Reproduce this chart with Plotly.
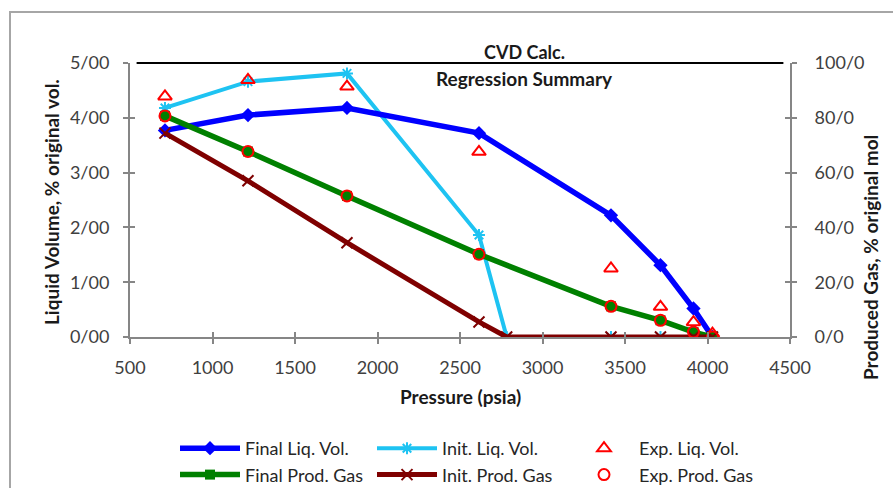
import plotly.graph_objects as go

# ---- data ----
pressure = [712, 1215, 1815, 2615, 3415, 3715, 3915, 4030]
pressure_init = [712, 1215, 1815, 2615, 2783, 3415, 3715, 3915, 4030]

final_liq_vol = [3.77, 4.05, 4.18, 3.72, 2.22, 1.31, 0.52, 0.0]
init_liq_vol = [4.18, 4.66, 4.81, 1.86, 0.0, 0.0, 0.0, 0.0, 0.0]
exp_liq_vol = [4.39, 4.69, 4.57, 3.38, 1.25, 0.55, 0.27, 0.06]

final_prod_gas = [80.7, 67.7, 51.5, 30.2, 11.2, 6.1, 1.8, 0.0]
init_prod_gas = [74.4, 57.0, 34.4, 5.5, 0.0, 0.0, 0.0, 0.0, 0.0]
exp_prod_gas = [80.7, 67.7, 51.5, 30.2, 11.2, 6.1, 1.8, 0.0]

x_ticks = [500, 1000, 1500, 2000, 2500, 3000, 3500, 4000, 4500]
y1_ticks = [0, 1, 2, 3, 4, 5]
y1_labels = ["0/00", "1/00", "2/00", "3/00", "4/00", "5/00"]
y2_ticks = [0, 20, 40, 60, 80, 100]
y2_labels = ["0/0", "20/0", "40/0", "60/0", "80/0", "100/0"]

FONT = "Lato, 'Open Sans', sans-serif"
W, H = 893, 488
L, R, T, B = 130, 790, 63, 337


def px(x):
    return (x - L) / (R - L)


def py(y):
    return (B - y) / (B - T)


fig = go.Figure()

fig.add_trace(go.Scatter(
    x=pressure_init, y=init_liq_vol, name="Init. Liq. Vol.", mode="lines+markers",
    line=dict(color="#1EC3F2", width=4),
    marker=dict(symbol="asterisk-open", size=10, line=dict(color="#1EC3F2", width=2)),
    legend="legend2"))
fig.add_trace(go.Scatter(
    x=pressure, y=final_liq_vol, name="Final Liq. Vol.", mode="lines+markers",
    line=dict(color="#0000FF", width=5.5),
    marker=dict(symbol="diamond", size=11, color="#0000FF"),
    legend="legend"))
fig.add_trace(go.Scatter(
    x=pressure, y=exp_liq_vol, name="Exp. Liq. Vol.", mode="markers",
    marker=dict(symbol="triangle-up-open", size=12, color="#FF0000", line=dict(width=2)),
    legend="legend3"))

fig.add_trace(go.Scatter(
    x=pressure, y=final_prod_gas, name="Final Prod. Gas", mode="lines+markers",
    line=dict(color="#008000", width=5.5),
    marker=dict(symbol="square", size=10, color="#008000"),
    yaxis="y2", legend="legend"))
fig.add_trace(go.Scatter(
    x=pressure_init, y=init_prod_gas, name="Init. Prod. Gas", mode="lines+markers",
    line=dict(color="#7F0000", width=5),
    marker=dict(symbol="x-thin-open", size=11, line=dict(color="#7F0000", width=2)),
    yaxis="y2", legend="legend2"))
fig.add_trace(go.Scatter(
    x=pressure, y=exp_prod_gas, name="Exp. Prod. Gas", mode="markers",
    marker=dict(symbol="circle-open", size=11, color="#FF0000", line=dict(width=2)),
    yaxis="y2", legend="legend3"))

axis_col = "#868686"
tickfont = dict(family=FONT, size=18, color="#404040")
legfont = dict(family=FONT, size=18, color="#262626")

fig.update_layout(
    width=W, height=H,
    margin=dict(l=L, r=W - R, t=T, b=H - B, autoexpand=False),
    paper_bgcolor="white", plot_bgcolor="white",
    font=dict(family=FONT, size=18, color="#262626"),
    xaxis=dict(range=[500, 4500], tickvals=x_ticks, ticktext=[str(v) for v in x_ticks],
               showgrid=False, zeroline=False, showline=True, linecolor=axis_col, linewidth=2,
               ticks="outside", ticklen=5, tickcolor=axis_col, tickwidth=1.5,
               tickfont=tickfont, ticklabelstandoff=8),
    yaxis=dict(range=[0, 5], tickvals=y1_ticks, ticktext=y1_labels,
               showgrid=False, zeroline=False, showline=True, linecolor=axis_col, linewidth=2,
               ticks="outside", ticklen=5, tickcolor=axis_col, tickwidth=1.5,
               tickfont=tickfont, ticklabelstandoff=10),
    yaxis2=dict(range=[0, 100], tickvals=y2_ticks, ticktext=y2_labels, overlaying="y", side="right",
                showgrid=False, zeroline=False, showline=True, linecolor=axis_col, linewidth=2,
                ticks="outside", ticklen=5, tickcolor=axis_col, tickwidth=1.5,
                tickfont=tickfont, ticklabelstandoff=14),
    xaxis2=dict(range=[500, 4500], tickvals=x_ticks, overlaying="x", anchor="y", side="bottom",
                showticklabels=False, showgrid=False, zeroline=False, showline=False,
                ticks="inside", ticklen=5, tickcolor=axis_col, tickwidth=1.5),
    yaxis3=dict(range=[0, 5], tickvals=y1_ticks, overlaying="y", anchor="x", side="left",
                showticklabels=False, showgrid=False, zeroline=False, showline=False,
                ticks="inside", ticklen=5, tickcolor=axis_col, tickwidth=1.5),
    yaxis4=dict(range=[0, 100], tickvals=y2_ticks, overlaying="y", anchor="x", side="right",
                showticklabels=False, showgrid=False, zeroline=False, showline=False,
                ticks="inside", ticklen=5, tickcolor=axis_col, tickwidth=1.5),
    legend=dict(x=px(175), y=py(430), xanchor="left", yanchor="top", orientation="v",
                itemwidth=60, bgcolor="rgba(0,0,0,0)", font=legfont, tracegroupgap=0),
    legend2=dict(x=px(372), y=py(430), xanchor="left", yanchor="top", orientation="v",
                 itemwidth=60, bgcolor="rgba(0,0,0,0)", font=legfont, tracegroupgap=0),
    legend3=dict(x=px(569), y=py(430), xanchor="left", yanchor="top", orientation="v",
                 itemwidth=60, bgcolor="rgba(0,0,0,0)", font=legfont, tracegroupgap=0),
    showlegend=True,
)

# dummy traces to make the inside-tick axes render
fig.add_trace(go.Scatter(x=[None], y=[None], xaxis="x2", yaxis="y", showlegend=False, hoverinfo="skip"))
fig.add_trace(go.Scatter(x=[None], y=[None], xaxis="x", yaxis="y3", showlegend=False, hoverinfo="skip"))
fig.add_trace(go.Scatter(x=[None], y=[None], xaxis="x", yaxis="y4", showlegend=False, hoverinfo="skip"))

# outer chart frame and top black border
fig.add_shape(type="rect", xref="paper", yref="paper",
              x0=px(10), x1=px(905), y0=py(500), y1=py(12),
              line=dict(color="#A6A6A6", width=2), layer="below")
fig.add_shape(type="line", xref="paper", yref="paper", x0=0.01, x1=0.99, y0=1, y1=1,
              line=dict(color="black", width=2))

ttl = dict(family=FONT, size=19, color="#1a1a1a")
ann = dict(xref="paper", yref="paper", showarrow=False, xanchor="center", yanchor="middle")
fig.add_annotation(text="<b>CVD Calc.</b>", x=px(524), y=py(52), font=dict(family=FONT, size=18, color="#1a1a1a"), **ann)
fig.add_annotation(text="<b>Regression Summary</b>", x=px(524), y=py(78), font=ttl, **ann)
fig.add_annotation(text="<b>Pressure (psia)</b>", x=px(460), y=py(396), font=ttl, **ann)
fig.add_annotation(text="<b>Liquid Volume, % original vol.</b>", x=px(51), y=py(202), textangle=-90,
                   font=ttl, **ann)
fig.add_annotation(text="<b>Produced Gas, % original mol</b>", x=px(870), y=py(257), textangle=-90,
                   font=ttl, **ann)

fig.write_html("out.html")
